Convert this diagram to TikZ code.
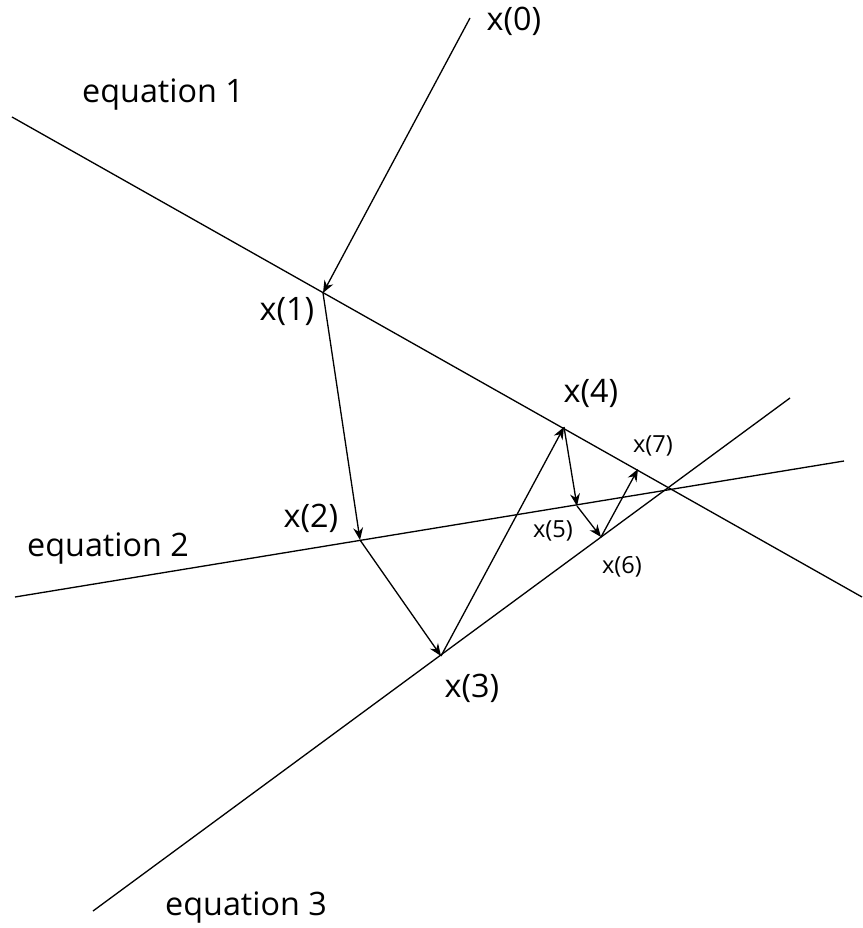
\documentclass[tikz,border=0pt]{standalone}
\usepackage{fontspec}
\setmainfont{Open Sans}
\usetikzlibrary{arrows.meta}
\tikzset{
  every picture/.style={
    every path/.style={line width=0.75pt},
  }
}
\tikzset{step arrow/.style = {-{Stealth[length=7pt,width=5.6pt]}}}
\tikzset{biglbl/.style = {inner sep=0pt, font=\fontsize{18.4}{22}\selectfont}}
\tikzset{smalllbl/.style = {inner sep=0pt, font=\fontsize{13.4}{16}\selectfont}}

\begin{document}
\begin{tikzpicture}[x=0.02cm, y=-0.02cm]
          \useasboundingbox (0,0) rectangle (862,928);
          % the three equations
          \coordinate (e1a) at (12,117);
          \coordinate (e1b) at (862,597);
          \coordinate (e2a) at (15,597);
          \coordinate (e2b) at (844,461);
          \coordinate (e3a) at (93,911);
          \coordinate (e3b) at (790,398);
          \draw (e1a) -- (e1b);
          \draw (e2a) -- (e2b);
          \draw (e3a) -- (e3b);
          % the iterates
          \coordinate (x0) at (470,18);
          \coordinate (x1) at (323,293);
          \coordinate (x2) at (360,540);
          \coordinate (x3) at (441,656);
          \coordinate (x4) at (564,427);
          \coordinate (x5) at (577,506);
          \coordinate (x6) at (601,537);
          \coordinate (x7) at (638,469);
          \draw[step arrow] (x0) -- (x1);
          \draw[step arrow] (x1) -- (x2);
          \draw[step arrow] (x2) -- (x3);
          \draw[step arrow] (x3) -- (x4);
          \draw[step arrow] (x4) -- (x5);
          \draw[step arrow] (x5) -- (x6);
          \draw[step arrow] (x6) -- (x7);
          % labels
          \node[biglbl] (eq1) at (163,95) {equation 1};
          \node[biglbl] (eq2) at (108,549) {equation 2};
          \node[biglbl] (eq3) at (246,908) {equation 3};
          \node[biglbl] (l0) at (514,21) {x(0)};
          \node[biglbl] (l1) at (287,312) {x(1)};
          \node[biglbl] (l2) at (311,518) {x(2)};
          \node[biglbl] (l3) at (472,688) {x(3)};
          \node[biglbl] (l4) at (591,393) {x(4)};
          \node[smalllbl] (l5) at (553,531) {x(5)};
          \node[smalllbl] (l6) at (622,567) {x(6)};
          \node[smalllbl] (l7) at (653,446) {x(7)};
        \end{tikzpicture}
\end{document}
